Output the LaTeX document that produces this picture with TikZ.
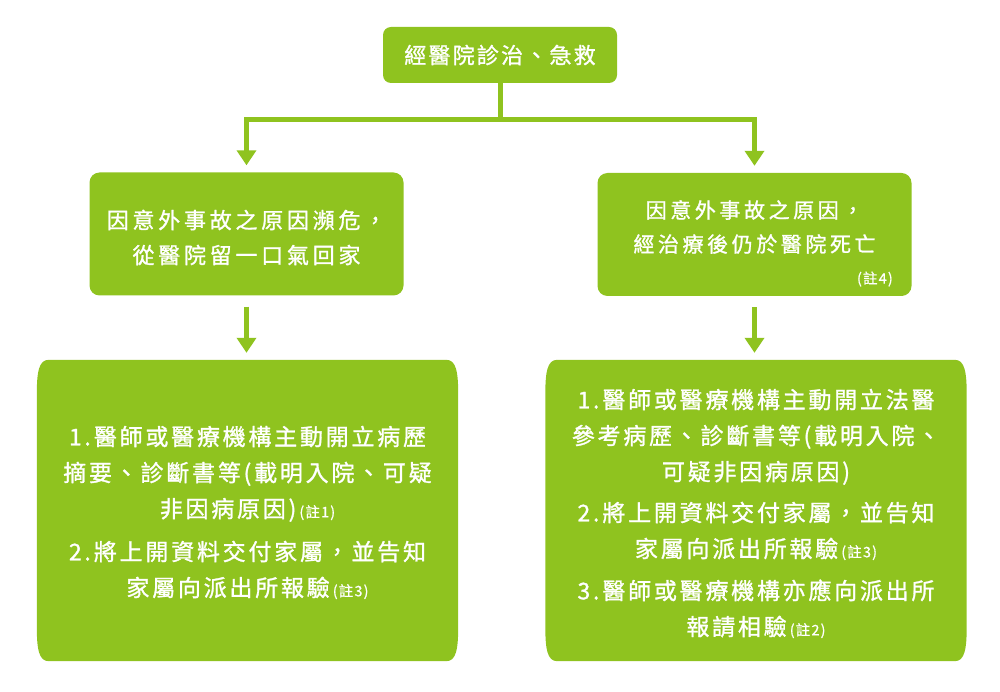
\documentclass[tikz,border=0pt]{standalone}
\usepackage{fontspec}
\setmainfont{Noto Sans CJK TC}
\newfontfamily\ftop[LetterSpace=10,FakeBold=1.2]{Noto Sans CJK TC}
\newfontfamily\fmid[LetterSpace=17,FakeBold=1.2]{Noto Sans CJK TC}
\newfontfamily\fbot[LetterSpace=12,FakeBold=1.2]{Noto Sans CJK TC}
\newfontfamily\fnote[LetterSpace=8,FakeBold=0.8]{Noto Sans CJK TC}
\usetikzlibrary{arrows.meta,calc}
\definecolor{leaf}{HTML}{8FC31F}
\newcommand{\zhu}[1]{\hspace{3pt}{\fnote\fontsize{14.5}{14}\selectfont(#1)}}
\tikzset{
  topbox/.style={fill=leaf, rounded corners=8pt, minimum width=234pt, minimum height=56pt,
    inner sep=0pt, text=white, font=\ftop\fontsize{22}{26}\selectfont},
  midbox/.style={fill=leaf, rounded corners=10pt, minimum width=314pt, minimum height=123pt, inner sep=0pt},
  bigbox/.style={minimum width=421pt, minimum height=301pt, inner sep=0pt},
  midtext/.style={text=white, align=center, inner sep=0pt, font=\fmid\fontsize{22}{35}\selectfont},
  bottext/.style={text=white, align=center, inner sep=0pt, font=\fbot\fontsize{23}{36}\selectfont},
  conn/.style={draw=leaf, line width=5pt},
  arr/.style={conn, -{Triangle[width=19pt,length=15pt]}, shorten >=7pt},
  bulgefill/.style={fill=leaf}
}
\begin{document}
\begin{tikzpicture}[x=1pt,y=-1pt]
\useasboundingbox (0,0) rectangle (1000,692);

% top
\node[topbox] (top) at (500,55) {經醫院診治、急救};

% middle boxes
\node[midbox] (midL) at (246.5,234) {};
\node[midtext] (midLt) at (246.5,237.5) {因意外事故之原因瀕危，\\從醫院留一口氣回家};
\node[midbox] (midR) at (754.5,234.5) {};
\node[midtext, font=\fmid\fontsize{21}{34}\selectfont] (midRt) at (754.5,227) {因意外事故之原因，\\經治療後仍於醫院死亡};
\node[anchor=east, inner sep=0pt, text=white, font=\fnote\fontsize{14.5}{14}\selectfont] (n4) at (893,279) {(註4)};

% connectors top -> middle
\coordinate (split) at (500,120);
\draw[arr] (top.south) -- (split) -| (midL.north);
\draw[arr] (split) -| (midR.north);

% bottom boxes
\node[bigbox] (botL) at (247.5,510.5) {};
\node[bigbox] (botR) at (756,510.5) {};
\foreach \b in {botL,botR}{
  \fill[bulgefill]
    ($(\b.north west)+(12,0)$) -- ($(\b.north east)+(-12,0)$)
    .. controls ($(\b.north east)+(-2,0)$) and ($(\b.north east)+(0,12)$) .. ($(\b.north east)+(0,35)$)
    -- ($(\b.south east)+(0,-35)$)
    .. controls ($(\b.south east)+(0,-12)$) and ($(\b.south east)+(-2,0)$) .. ($(\b.south east)+(-12,0)$)
    -- ($(\b.south west)+(12,0)$)
    .. controls ($(\b.south west)+(2,0)$) and ($(\b.south west)+(0,-12)$) .. ($(\b.south west)+(0,-35)$)
    -- ($(\b.north west)+(0,35)$)
    .. controls ($(\b.north west)+(0,12)$) and ($(\b.north west)+(2,0)$) .. cycle;
}

% connectors middle -> bottom
\draw[arr, shorten <=11pt] (midL.south) -- (midL.south |- botL.north);
\draw[arr, shorten <=11pt] (midR.south) -- (midR.south |- botR.north);

% bottom texts
\node[bottext] (botLt) at (247.5,512.5) {1.\hspace{3pt}醫師或醫療機構主動開立病歷\\摘要、診斷書等(載明入院、可疑\\非因病原因)\zhu{註1}\\[7pt]2.\hspace{3pt}將上開資料交付家屬，並告知\\家屬向派出所報驗\zhu{註3}};
\node[bottext] (botRt) at (756,513.5) {1.\hspace{3pt}醫師或醫療機構主動開立法醫\\參考病歷、診斷書等(載明入院、\\可疑非因病原因)\\[5pt]2.\hspace{3pt}將上開資料交付家屬，並告知\\家屬向派出所報驗\zhu{註3}\\[6pt]3.\hspace{3pt}醫師或醫療機構亦應向派出所\\報請相驗\zhu{註2}};
\end{tikzpicture}
\end{document}
